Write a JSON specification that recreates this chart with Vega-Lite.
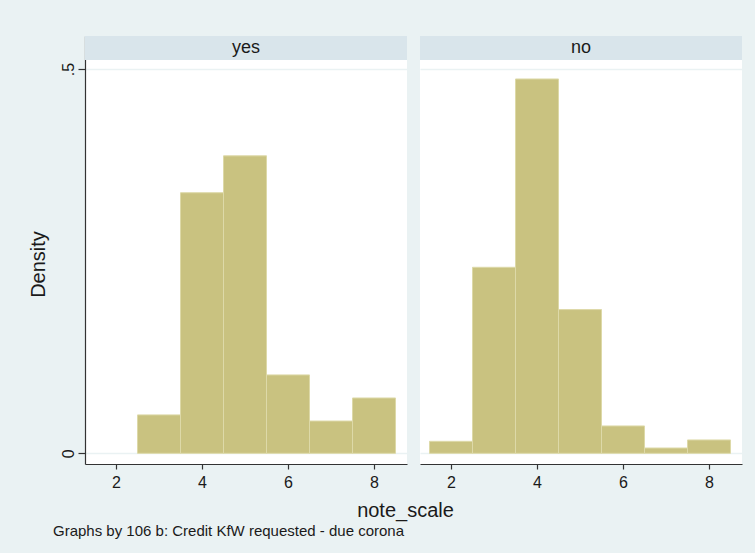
{
  "$schema": "https://vega.github.io/schema/vega-lite/v6.json",
  "background": "#eaf2f3",
  "autosize": {"type": "pad"},
  "padding": {"left": 28, "top": 36, "right": 13, "bottom": 14},
  "spacing": 13,
  "bounds": "flush",
  "datasets": {
    "bins": [
      {"group": "yes", "bin_start": 2.5, "bin_end": 3.5, "density": 0.050},
      {"group": "yes", "bin_start": 3.5, "bin_end": 4.5, "density": 0.339},
      {"group": "yes", "bin_start": 4.5, "bin_end": 5.5, "density": 0.387},
      {"group": "yes", "bin_start": 5.5, "bin_end": 6.5, "density": 0.102},
      {"group": "yes", "bin_start": 6.5, "bin_end": 7.5, "density": 0.042},
      {"group": "yes", "bin_start": 7.5, "bin_end": 8.5, "density": 0.072},
      {"group": "no", "bin_start": 1.5, "bin_end": 2.5, "density": 0.0156},
      {"group": "no", "bin_start": 2.5, "bin_end": 3.5, "density": 0.242},
      {"group": "no", "bin_start": 3.5, "bin_end": 4.5, "density": 0.487},
      {"group": "no", "bin_start": 4.5, "bin_end": 5.5, "density": 0.187},
      {"group": "no", "bin_start": 5.5, "bin_end": 6.5, "density": 0.0356},
      {"group": "no", "bin_start": 6.5, "bin_end": 7.5, "density": 0.0069},
      {"group": "no", "bin_start": 7.5, "bin_end": 8.5, "density": 0.0174}
    ]
  },
  "config": {
    "font": "Liberation Sans",
    "view": {"stroke": null, "fill": "white"},
    "axis": {
      "domainColor": "#333333",
      "domainWidth": 1.2,
      "tickColor": "#333333",
      "tickWidth": 1.2,
      "labelColor": "#1a1a1a",
      "titleColor": "#1a1a1a",
      "labelFont": "Liberation Sans",
      "titleFont": "Liberation Sans",
      "labelFontSize": 16,
      "titleFontSize": 20,
      "titleFontWeight": "normal",
      "gridColor": "#eaf2f3",
      "gridWidth": 1.5,
      "zindex": 0
    }
  },
  "title": {
    "text": "Graphs by 106 b: Credit KfW requested - due corona",
    "orient": "bottom",
    "anchor": "start",
    "frame": "bounds",
    "fontSize": 15,
    "fontWeight": "normal",
    "font": "Liberation Sans",
    "color": "#1a1a1a",
    "dx": 25,
    "offset": 4
  },
  "hconcat": [
    {
      "width": 322,
      "height": 428,
      "layer": [
        {
          "data": {"name": "bins"},
          "transform": [{"filter": "datum.group == 'yes'"}],
          "mark": {"type": "rect", "fill": "#c9c280", "stroke": "#ddd9a8", "strokeWidth": 1},
          "encoding": {
            "x": {
              "field": "bin_start", "type": "quantitative",
              "scale": {"domain": [1.279, 8.767], "nice": false, "zero": false},
              "axis": {"values": [2, 4, 6, 8], "grid": false, "tickSize": 5, "labelPadding": 5,
                       "title": "note_scale", "titleX": 320, "titleY": 52, "titleAlign": "center", "titleBaseline": "alphabetic"}
            },
            "x2": {"field": "bin_end"},
            "y": {
              "field": "density", "type": "quantitative",
              "scale": {"domain": [-0.0139, 0.5429], "nice": false, "zero": false},
              "axis": {"values": [0, 0.5], "grid": true, "tickSize": 7, "labelPadding": 2,
                       "labelAngle": -90, "labelAlign": "center", "labelBaseline": "bottom",
                       "labelExpr": "datum.value == 0.5 ? '.5' : '0'",
                       "title": "Density", "titleX": -47, "titleY": 228, "titleAngle": -90,
                       "titleAlign": "center", "titleBaseline": "middle"}
            },
            "y2": {"datum": 0}
          }
        },
        {
          "data": {"values": [{"panel": "yes"}]},
          "mark": {"type": "rect", "fill": "#d9e5eb"},
          "encoding": {
            "x": {"datum": 1.279, "type": "quantitative"},
            "x2": {"datum": 8.767},
            "y": {"datum": 0.5117, "type": "quantitative"},
            "y2": {"datum": 0.5429}
          }
        },
        {
          "data": {"values": [{"panel": "yes"}]},
          "mark": {"type": "text", "fontSize": 18, "color": "#1a1a1a", "baseline": "middle", "align": "center", "font": "Liberation Sans"},
          "encoding": {
            "x": {"datum": 5.023, "type": "quantitative"},
            "y": {"datum": 0.5273, "type": "quantitative"},
            "text": {"field": "panel"}
          }
        }
      ]
    },
    {
      "width": 322,
      "height": 428,
      "layer": [
        {
          "data": {"name": "bins"},
          "transform": [{"filter": "datum.group == 'no'"}],
          "mark": {"type": "rect", "fill": "#c9c280", "stroke": "#ddd9a8", "strokeWidth": 1},
          "encoding": {
            "x": {
              "field": "bin_start", "type": "quantitative",
              "scale": {"domain": [1.279, 8.767], "nice": false, "zero": false},
              "axis": {"values": [2, 4, 6, 8], "grid": false, "tickSize": 5, "labelPadding": 5, "title": null}
            },
            "x2": {"field": "bin_end"},
            "y": {
              "field": "density", "type": "quantitative",
              "scale": {"domain": [-0.0139, 0.5429], "nice": false, "zero": false},
              "axis": {"values": [0, 0.5], "grid": true, "labels": false, "ticks": false, "domain": false, "title": null}
            },
            "y2": {"datum": 0}
          }
        },
        {
          "data": {"values": [{"panel": "no"}]},
          "mark": {"type": "rect", "fill": "#d9e5eb"},
          "encoding": {
            "x": {"datum": 1.279, "type": "quantitative"},
            "x2": {"datum": 8.767},
            "y": {"datum": 0.5117, "type": "quantitative"},
            "y2": {"datum": 0.5429}
          }
        },
        {
          "data": {"values": [{"panel": "no"}]},
          "mark": {"type": "text", "fontSize": 18, "color": "#1a1a1a", "baseline": "middle", "align": "center", "font": "Liberation Sans"},
          "encoding": {
            "x": {"datum": 5.023, "type": "quantitative"},
            "y": {"datum": 0.5273, "type": "quantitative"},
            "text": {"field": "panel"}
          }
        }
      ]
    }
  ]
}
